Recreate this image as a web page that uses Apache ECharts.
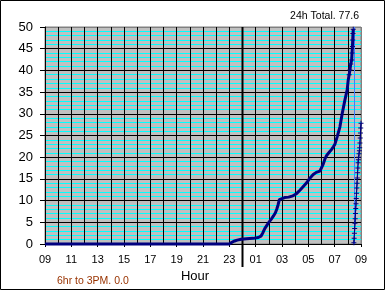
<!DOCTYPE html>
<html>
<head>
<meta charset="utf-8">
<script src="https://cdn.jsdelivr.net/npm/echarts@6/dist/echarts.min.js"></script>
<style>
html,body{margin:0;padding:0;background:#fff;}
#c{width:385px;height:290px;}
</style>
</head>
<body>
<div id="c"></div>
<script>
// Hours are counted from 09:00 (0) to 09:00 next day (24)
const xTickLabels = ['09','11','13','15','17','19','21','23','01','03','05','07','09'];
const mainHours  = [0, 14.0, 14.2, 14.4, 14.6, 14.9, 15.3, 15.8, 16.2, 16.4, 16.55, 16.7, 16.85, 17.0, 17.2, 17.34, 17.5, 17.6, 17.7, 17.8, 17.9, 18.2, 18.5, 18.83, 19.1, 19.36, 19.6, 19.87, 20.1, 20.37, 20.6, 20.88, 21.0, 21.13, 21.26, 21.39, 21.6, 21.77, 21.9, 22.02, 22.2, 22.4, 22.57, 22.78, 22.95, 23.03, 23.1, 23.16, 23.22, 23.29, 23.32, 23.35, 23.37, 23.39, 23.41];
const mainValues = [0, 0, 0.4, 0.7, 0.9, 1.1, 1.2, 1.3, 1.5, 1.8, 2.6, 3.6, 4.3, 5.0, 5.8, 6.4, 7.2, 8.0, 9.0, 10.2, 10.6, 10.7, 10.8, 11.1, 11.6, 12.4, 13.2, 14.1, 15.1, 16.0, 16.5, 16.8, 17.2, 18.4, 19.6, 20.4, 21.2, 21.8, 22.4, 23.0, 24.8, 27.0, 30.0, 33.2, 35.5, 37.8, 39.0, 40.1, 41.5, 42.4, 44.0, 45.5, 47.0, 48.5, 49.5];
const rateHours  = [23.46, 23.48, 23.5, 23.52, 23.54, 23.56, 23.58, 23.6, 23.62, 23.64, 23.66, 23.68, 23.7, 23.72, 23.74, 23.76, 23.78, 23.8, 23.82, 23.85, 23.88, 23.9, 23.92, 23.94, 23.96, 23.98, 24.0];
const rateValues = [0.3, 1.3, 2.5, 3.6, 4.8, 5.8, 7.0, 8.2, 9.3, 10.5, 11.7, 12.9, 14.0, 15.2, 16.4, 17.5, 18.7, 19.4, 20.0, 20.8, 21.5, 22.2, 23.3, 24.4, 25.6, 26.7, 27.8];
const midnightHour = 15;
const nowHour = 23.48;
const totalText = '24h Total. 77.6';
const dayText = '6hr to 3PM. 0.0';
const axisTitle = 'Hour';

const FONT = '"Liberation Sans", Arial, sans-serif';
const plus = 'path://M2,0h1v5h-1z M0,2h5v1h-5z';

const chart = echarts.init(document.getElementById('c'), null, {renderer:'canvas'});
const ySplitColors = ['#000','#000','#000','#000','#000','#000','#000','#000','#000','#000','#808080'];
const xSplitColors = ['#000','#000','#000','#000','#000','#000','#000','#000','#000','#000','#000','#000','#808080'];

chart.setOption({
  animation:false,
  backgroundColor:'#fff',
  grid:{left:45, top:27, right:24, bottom:46, show:true, backgroundColor:'#c0c0c0', borderColor:'#808080', borderWidth:1},
  xAxis:{
    type:'value', min:0, max:24, interval:2, z:2,
    axisLine:{show:true, onZero:false, lineStyle:{color:'#000', width:1}},
    axisTick:{show:true, length:3, lineStyle:{color:'#000'}},
    axisLabel:{margin:10, fontSize:11, color:'#000', fontFamily:FONT,
      formatter:function(v){ return xTickLabels[Math.round(v/2)] || ''; }},
    splitLine:{show:true, lineStyle:{color:xSplitColors, width:1}},
    minorTick:{show:false, splitNumber:2},
    minorSplitLine:{show:true, lineStyle:{color:'#000', width:1}}
  },
  yAxis:{
    type:'value', min:0, max:50, interval:5, z:1,
    axisLine:{show:true, lineStyle:{color:'#000', width:1}},
    axisTick:{show:true, length:5, lineStyle:{color:'#000'}},
    axisLabel:{margin:12, fontSize:13, color:'#000', fontFamily:FONT},
    splitLine:{show:true, lineStyle:{color:ySplitColors, width:1}},
    minorTick:{show:false, splitNumber:5},
    minorSplitLine:{show:true, lineStyle:{color:'#00ffff', width:1}}
  },
  series:[
    {
      type:'line', clip:false, z:5,
      data: mainHours.map((h,i)=>[h, mainValues[i]]),
      lineStyle:{color:'#000080', width:3},
      symbol:function(v){ return v[1] >= 38 ? plus : 'none'; },
      symbolSize:5, showSymbol:true,
      itemStyle:{color:'#000080'},
      markLine:{
        silent:true, symbol:'none', label:{show:false},
        lineStyle:{color:'#3f7fff', width:1, type:'solid'},
        data:[{xAxis:nowHour}]
      }
    },
    {
      type:'line', clip:false, z:6,
      data: rateHours.map((h,i)=>[h, rateValues[i]]),
      lineStyle:{color:'#000080', width:1},
      symbol:plus, symbolSize:5, showSymbol:true,
      itemStyle:{color:'#000080'}
    }
  ],
  graphic:[
    {type:'rect', shape:{x:0.5, y:0.5, width:384, height:289}, style:{fill:'none', stroke:'#000', lineWidth:1}, z:100},
    {type:'text', x:359, y:16, style:{text:totalText, fontSize:10.5, fontFamily:FONT, fill:'#000', align:'right', verticalAlign:'middle'}},
    {type:'text', x:57, y:281, style:{text:dayText, fontSize:10.5, fontFamily:FONT, fill:'#993300', align:'left', verticalAlign:'middle'}},
    {type:'text', x:195, y:276, style:{text:axisTitle, fontSize:13, fontFamily:FONT, fill:'#000', align:'center', verticalAlign:'middle'}}
  ]
});

// midnight marker: thick black line, extends a little below the axis
const pTop = chart.convertToPixel({gridIndex:0}, [midnightHour, 50]);
const pBot = chart.convertToPixel({gridIndex:0}, [midnightHour, 0]);
chart.setOption({
  graphic:[
    {type:'rect', shape:{x:0.5, y:0.5, width:384, height:289}, style:{fill:'none', stroke:'#000', lineWidth:1}, z:100},
    {type:'text', x:359, y:16, style:{text:totalText, fontSize:10.5, fontFamily:FONT, fill:'#000', align:'right', verticalAlign:'middle'}},
    {type:'text', x:57, y:281, style:{text:dayText, fontSize:10.5, fontFamily:FONT, fill:'#993300', align:'left', verticalAlign:'middle'}},
    {type:'text', x:195, y:276, style:{text:axisTitle, fontSize:13, fontFamily:FONT, fill:'#000', align:'center', verticalAlign:'middle'}},
    {type:'line', z:3, shape:{x1:pTop[0], y1:pTop[1], x2:pBot[0], y2:pBot[1] + 23}, style:{stroke:'#000', lineWidth:2}}
  ]
});
</script>
</body>
</html>
